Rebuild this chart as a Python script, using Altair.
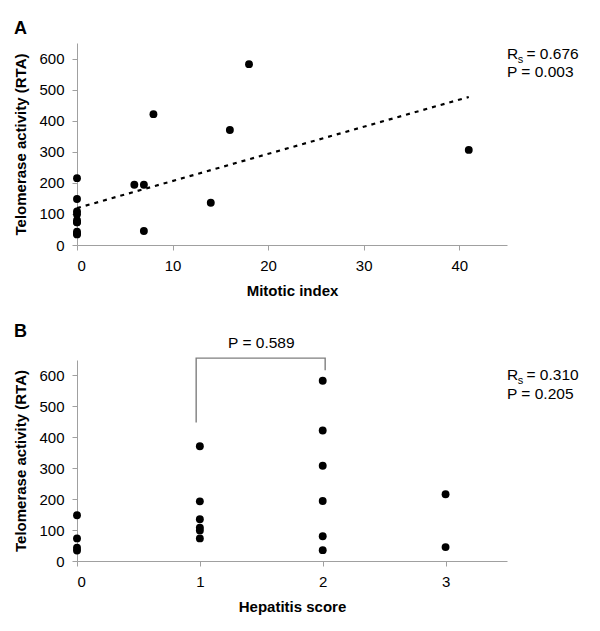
import altair as alt
import pandas as pd

FONT = "Liberation Sans"

# Panel A data: mitotic index vs telomerase activity
mitotic_index = [0, 0, 0, 0, 0, 0, 0, 0, 0, 0, 6, 7, 7, 8, 14, 16, 18, 41]
telomerase_a = [215, 148, 108, 99, 80, 73, 73, 43, 37, 34, 194, 194, 45, 421, 136, 370, 582, 306]

# Panel B data: hepatitis score vs telomerase activity
hepatitis_score = [0, 0, 0, 0, 1, 1, 1, 1, 1, 1, 2, 2, 2, 2, 2, 2, 3, 3]
telomerase_b = [148, 73, 43, 34, 371, 193, 135, 108, 99, 73, 583, 422, 308, 194, 80, 35, 216, 45]

y_ticks = [0, 100, 200, 300, 400, 500, 600]
x_ticks_a = [0, 10, 20, 30, 40]
x_ticks_b = [0, 1, 2, 3]

# Statistics annotations
stats_a = ["0.676", "0.003"]
stats_b = ["0.310", "0.205"]
stats_y_a = [600, 540]
stats_y_b = [585, 524]

# Comparison bracket in panel B (data coordinates)
bracket_x = [0.97, 0.97, 2.02, 2.02]
bracket_y = [448, 656, 656, 617]
bracket_label = "P = 0.589"
bracket_label_pos = [1.5, 688]


def make_panel(xs, ys, xdom, xticks, xtitle, ytitle, stats, stats_y, bracket=None):
    xenc = alt.X("x:Q", scale=alt.Scale(domain=xdom, nice=False, zero=False),
                 axis=alt.Axis(values=xticks, title=xtitle, format="d"))
    yenc = alt.Y("y:Q", scale=alt.Scale(domain=[0, 650], nice=False),
                 axis=alt.Axis(values=y_ticks, title=ytitle, format="d"))
    df = pd.DataFrame({"x": xs, "y": ys})
    pts = alt.Chart(df).mark_circle(size=62, color="black", opacity=1).encode(x=xenc, y=yenc)
    layers = [pts]

    s1 = pd.DataFrame({"x": [xdom[1]], "y": [stats_y[0]]})
    s2 = pd.DataFrame({"x": [xdom[1]], "y": [stats_y[1]]})
    common = dict(align="left", baseline="alphabetic", font=FONT, color="black")
    layers.append(alt.Chart(s1).mark_text(text="R", fontSize=15.5, **common).encode(x=xenc, y=yenc))
    layers.append(alt.Chart(s1).mark_text(text="s", fontSize=11, dx=10.8, dy=4, **common).encode(x=xenc, y=yenc))
    layers.append(alt.Chart(s1).mark_text(text="= " + stats[0], fontSize=15.5, dx=19.5, **common).encode(x=xenc, y=yenc))
    layers.append(alt.Chart(s2).mark_text(text="P = " + stats[1], fontSize=15.5, **common).encode(x=xenc, y=yenc))

    if bracket is not None:
        bx, by, blabel, bpos = bracket
        bdf = pd.DataFrame({"x": bx, "y": by, "o": list(range(len(bx)))})
        layers.append(alt.Chart(bdf).mark_line(color="#7f7f7f", strokeWidth=1.4).encode(
            x=xenc, y=yenc, order="o:O"))
        ldf = pd.DataFrame({"x": [bpos[0]], "y": [bpos[1]]})
        layers.append(alt.Chart(ldf).mark_text(text=blabel, fontSize=15.5, align="center",
                                               baseline="alphabetic", font=FONT, color="black").encode(x=xenc, y=yenc))
    return layers, xenc, yenc


layers_a, xenc_a, yenc_a = make_panel(mitotic_index, telomerase_a, [0, 45], x_ticks_a, "Mitotic index",
                                      "Telomerase activity (RTA)", stats_a, stats_y_a)
# regression trendline computed from the data
trend = alt.Chart(pd.DataFrame({"x": mitotic_index, "y": telomerase_a})).transform_regression(
    "x", "y").mark_line(color="black", strokeWidth=2.2, strokeDash=[4, 5]).encode(x=xenc_a, y=yenc_a)
panel_a = alt.layer(trend, *layers_a).properties(
    width=430, height=202,
    title=alt.TitleParams("A", anchor="start", fontSize=18, fontWeight="bold", font=FONT, offset=5),
)

layers_b, _, _ = make_panel(hepatitis_score, telomerase_b, [0, 3.5], x_ticks_b, "Hepatitis score",
                            "Telomerase activity (RTA)", stats_b, stats_y_b,
                            bracket=(bracket_x, bracket_y, bracket_label, bracket_label_pos))
panel_b = alt.layer(*layers_b).properties(
    width=430, height=201,
    title=alt.TitleParams("B", anchor="start", fontSize=18, fontWeight="bold", font=FONT, offset=-5),
)

chart = alt.vconcat(panel_a, panel_b, spacing=25).properties(
    padding={"left": 5, "top": 12, "right": 5, "bottom": 5}
).configure_view(stroke=None).configure_axis(
    grid=False,
    domainColor="#a0a0a0",
    tickColor="#a0a0a0",
    tickSize=5,
    labelFont=FONT,
    labelFontSize=15,
    labelColor="black",
    labelPadding=8,
    titleFont=FONT,
    titleFontSize=15,
    titleFontWeight="bold",
    titleColor="black",
    titlePadding=10,
)

chart.save("out.html", embed_options={"renderer": "svg", "actions": False})
